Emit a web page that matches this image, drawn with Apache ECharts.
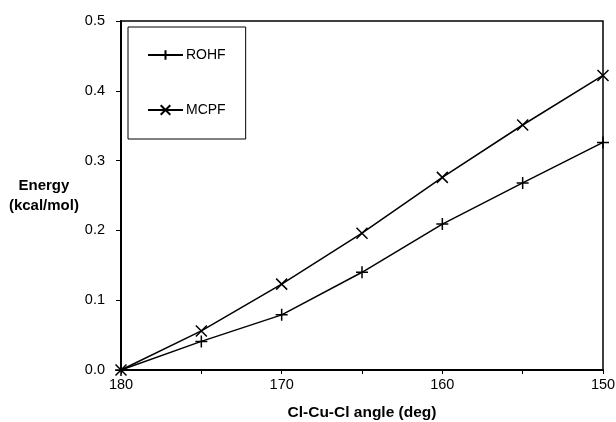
<!DOCTYPE html>
<html>
<head>
<meta charset="utf-8">
<script src="https://cdn.jsdelivr.net/npm/echarts@6/dist/echarts.min.js"></script>
<style>html,body{margin:0;padding:0;background:#fff}#c{width:616px;height:422px}</style>
</head>
<body>
<div id="c"></div>
<script>
var angles = [180, 175, 170, 165, 160, 155, 150];
var rohf = [0, 0.041, 0.079, 0.140, 0.209, 0.268, 0.326];
var mcpf = [0, 0.056, 0.123, 0.196, 0.276, 0.351, 0.422];
var xTicks = [180, 170, 160, 150];
var yTicks = [0.0, 0.1, 0.2, 0.3, 0.4, 0.5];

var plusPath = 'path://M0,5 L10,5 M5,0 L5,10';
var crossPath = 'path://M0,0 L10,10 M10,0 L0,10';
var font = 'Liberation Sans, Arial, sans-serif';

function pairs(xs, ys) { return xs.map(function (x, i) { return [x, ys[i]]; }); }

var chart = echarts.init(document.getElementById('c'));
chart.setOption({
  backgroundColor: '#fff',
  animation: false,
  textStyle: { fontFamily: font, color: '#000' },
  grid: { left: 121, top: 21, right: 13, bottom: 52, containLabel: false, outerBoundsMode: 'none',
    show: true, borderColor: '#000', borderWidth: 1.5, backgroundColor: 'transparent' },
  legend: {
    orient: 'vertical', left: 128, top: 27,
    padding: [21, 20, 22, 19], itemGap: 41, itemWidth: 35, itemHeight: 12,
    backgroundColor: '#fff', borderColor: '#000', borderWidth: 1, borderRadius: 0,
    textStyle: { fontFamily: font, fontSize: 14, color: '#000', padding: [0, 0, 0, -2] },
    data: ['ROHF', 'MCPF']
  },
  xAxis: {
    type: 'value', min: 150, max: 180, interval: 5, inverse: true,
    name: 'Cl-Cu-Cl angle (deg)', nameLocation: 'middle', nameGap: 35,
    nameTextStyle: { fontFamily: font, fontWeight: 'bold', fontSize: 15.5, color: '#000' },
    axisLine: { lineStyle: { color: '#000', width: 2 } },
    axisTick: { show: true, inside: false, length: 4, lineStyle: { color: '#000', width: 1 } },
    axisLabel: { margin: 7, fontSize: 14.5, color: '#000', fontFamily: font,
      formatter: function (v) { return xTicks.indexOf(v) >= 0 ? String(v) : ''; } },
    splitLine: { show: false }
  },
  yAxis: {
    type: 'value', min: 0, max: 0.5, interval: 0.1,
    name: 'Energy\n(kcal/mol)', nameLocation: 'middle', nameGap: 74, nameRotate: 0,
    nameTextStyle: { fontFamily: font, fontWeight: 'bold', fontSize: 15, color: '#000', align: 'center', verticalAlign: 'middle', lineHeight: 20 },
    axisLine: { lineStyle: { color: '#000', width: 2 } },
    axisTick: { show: true, inside: false, length: 5, lineStyle: { color: '#000', width: 1 } },
    axisLabel: { margin: 16, fontSize: 14.5, color: '#000', fontFamily: font,
      formatter: function (v) {
        for (var i = 0; i < yTicks.length; i++) { if (Math.abs(yTicks[i] - v) < 1e-9) return yTicks[i].toFixed(1); }
        return '';
      } },
    splitLine: { show: false }
  },
  series: [
    {
      name: 'ROHF', type: 'line', data: pairs(angles, rohf), clip: false,
      symbol: plusPath, symbolSize: 12, showAllSymbol: true,
      lineStyle: { color: '#000', width: 1.5 },
      itemStyle: { color: '#000', borderColor: '#000', borderWidth: 1.5 }
    },
    {
      name: 'MCPF', type: 'line', data: pairs(angles, mcpf), clip: false,
      symbol: crossPath, symbolSize: 11, showAllSymbol: true,
      lineStyle: { color: '#000', width: 1.5 },
      itemStyle: { color: '#000', borderColor: '#000', borderWidth: 1.5 }
    }
  ]
});
</script>
</body>
</html>
